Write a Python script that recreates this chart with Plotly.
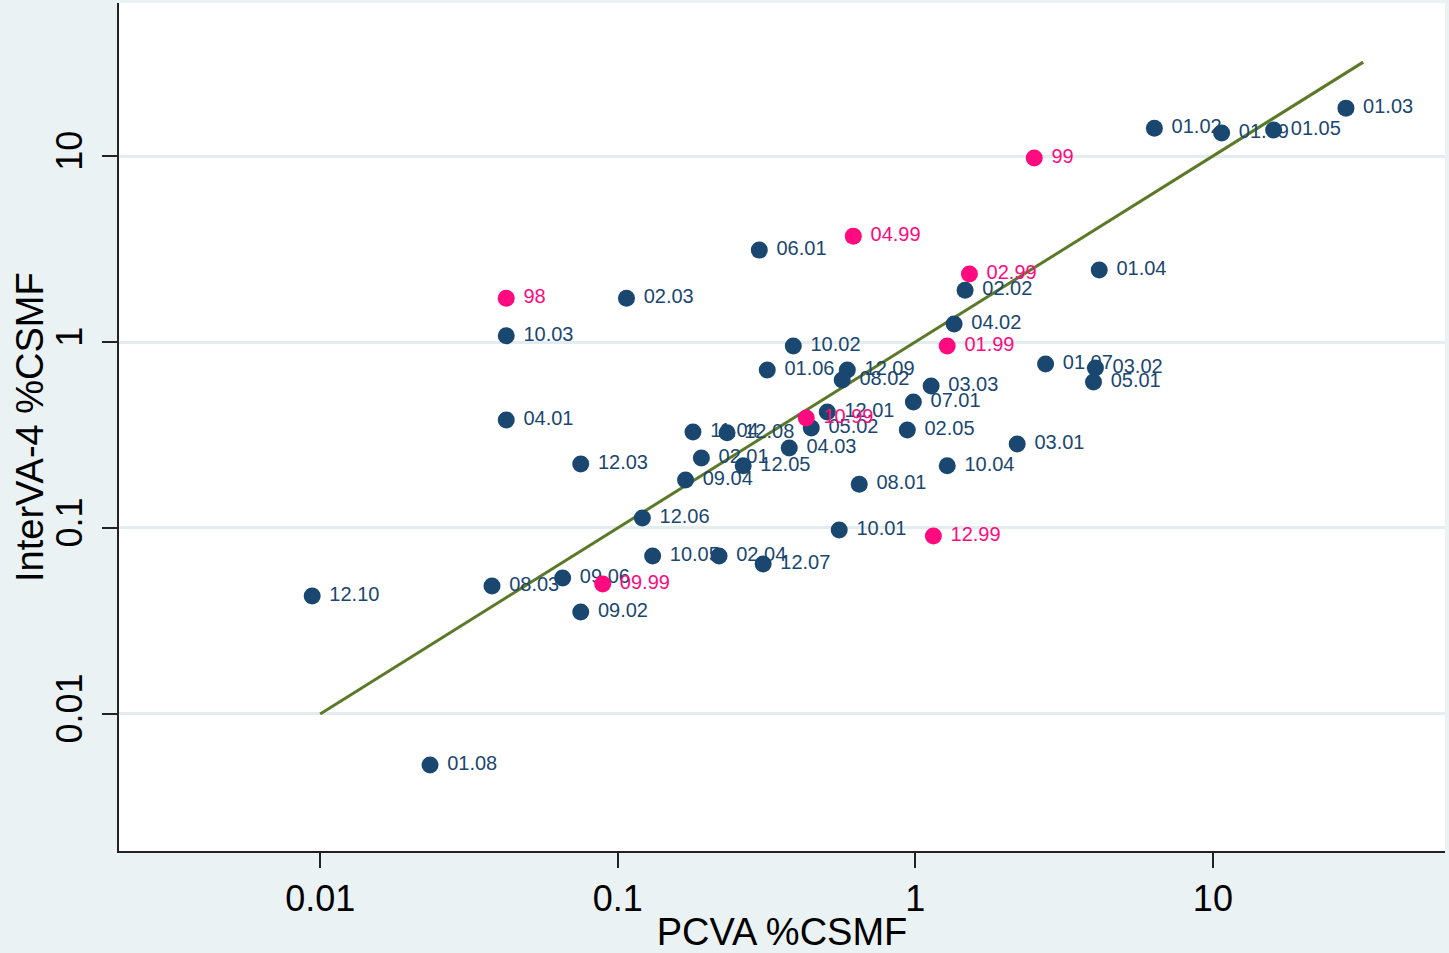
import plotly.graph_objects as go

# Navy series (cause codes)
navy_labels = ["01.03", "01.02", "01.09", "01.05", "06.01", "01.04", "02.02", "02.03",
               "04.02", "10.03", "10.02", "01.07", "03.02", "05.01", "01.06", "12.09",
               "08.02", "03.03", "07.01", "12.01", "05.02", "04.01", "02.05", "11.04",
               "12.08", "04.03", "03.01", "02.01", "12.05", "12.03", "10.04", "09.04",
               "08.01", "12.06", "10.01", "10.05", "02.04", "12.07", "09.06", "08.03",
               "09.02", "12.10", "01.08"]
navy_pcva = [28.0, 6.36, 10.7, 16.0, 0.299, 4.15, 1.47, 0.107,
             1.35, 0.0422, 0.389, 2.74, 4.03, 3.97, 0.318, 0.591,
             0.568, 1.13, 0.985, 0.506, 0.447, 0.0422, 0.940, 0.179,
             0.233, 0.377, 2.20, 0.191, 0.264, 0.0751, 1.28, 0.169,
             0.648, 0.121, 0.555, 0.131, 0.219, 0.308, 0.0653, 0.0378,
             0.0751, 0.0094, 0.0234]
navy_interva = [18.1, 14.1, 13.3, 13.8, 3.12, 2.44, 1.90, 1.72,
                1.25, 1.08, 0.952, 0.761, 0.725, 0.609, 0.707, 0.707,
                0.625, 0.580, 0.476, 0.420, 0.345, 0.381, 0.336, 0.328,
                0.325, 0.269, 0.283, 0.238, 0.216, 0.221, 0.216, 0.181,
                0.172, 0.113, 0.0975, 0.0707, 0.0707, 0.064, 0.0538, 0.0488,
                0.0353, 0.0431, 0.00532]

# Pink series (ill-defined / residual codes)
pink_labels = ["99", "04.99", "02.99", "98", "01.99", "10.99", "12.99", "09.99"]
pink_pcva = [2.51, 0.619, 1.52, 0.0422, 1.28, 0.430, 1.15, 0.089]
pink_interva = [9.76, 3.71, 2.32, 1.72, 0.952, 0.390, 0.0906, 0.050]

# Line of equality
line_x = [0.01, 32.0]
line_y = [0.01, 32.0]

tick_vals = [0.01, 0.1, 1, 10]
tick_text = ["0.01", "0.1", "1", "10"]

NAVY = "#1a476f"
PINK = "#ff0a7f"
FONT = "Arial, Liberation Sans, sans-serif"

fig = go.Figure()
fig.add_trace(go.Scatter(x=line_x, y=line_y, mode="lines",
                         line=dict(color="#5a7a28", width=3),
                         showlegend=False, hoverinfo="skip"))
fig.add_trace(go.Scatter(x=navy_pcva, y=navy_interva, mode="markers+text",
                         text=navy_labels, texttemplate=" %{text}",
                         textposition="middle right",
                         textfont=dict(family=FONT, size=20, color=NAVY),
                         marker=dict(color=NAVY, size=17),
                         showlegend=False))
fig.add_trace(go.Scatter(x=pink_pcva, y=pink_interva, mode="markers+text",
                         text=pink_labels, texttemplate=" %{text}",
                         textposition="middle right",
                         textfont=dict(family=FONT, size=20, color=PINK),
                         marker=dict(color=PINK, size=17),
                         showlegend=False))

fig.update_layout(
    width=1449, height=953,
    paper_bgcolor="#eaf2f3", plot_bgcolor="#ffffff",
    margin=dict(l=119, r=4, t=3, b=102),
    font=dict(family=FONT, color="#000000"),
    annotations=[dict(text="InterVA-4 %CSMF", xref="paper", yref="paper",
                      x=0, y=0.5, xanchor="center", yanchor="middle",
                      xshift=-89, textangle=-90, showarrow=False,
                      font=dict(family=FONT, size=38, color="#000000"))],
)
fig.update_xaxes(type="log", range=[-2.676, 1.78],
                 tickvals=tick_vals, ticktext=tick_text,
                 ticks="outside", ticklen=15, tickwidth=1.5, tickcolor="#222222",
                 tickfont=dict(size=36), ticklabelstandoff=0,
                 showgrid=False, zeroline=False,
                 showline=True, linecolor="#222222", linewidth=2,
                 title=dict(text="PCVA %CSMF", font=dict(size=38), standoff=2))
fig.update_yaxes(type="log", range=[-2.737, 1.823],
                 tickvals=tick_vals, ticktext=tick_text, tickangle=-90,
                 ticks="outside", ticklen=15, tickwidth=1.5, tickcolor="#222222",
                 tickfont=dict(size=36), ticklabelstandoff=6,
                 showgrid=True, gridcolor="#e3edef", gridwidth=2.5, zeroline=False,
                 showline=True, linecolor="#222222", linewidth=2)

fig.write_html("out.html", config={"displayModeBar": False},
               post_script="document.body.style.margin='0';document.body.style.overflow='hidden';")
